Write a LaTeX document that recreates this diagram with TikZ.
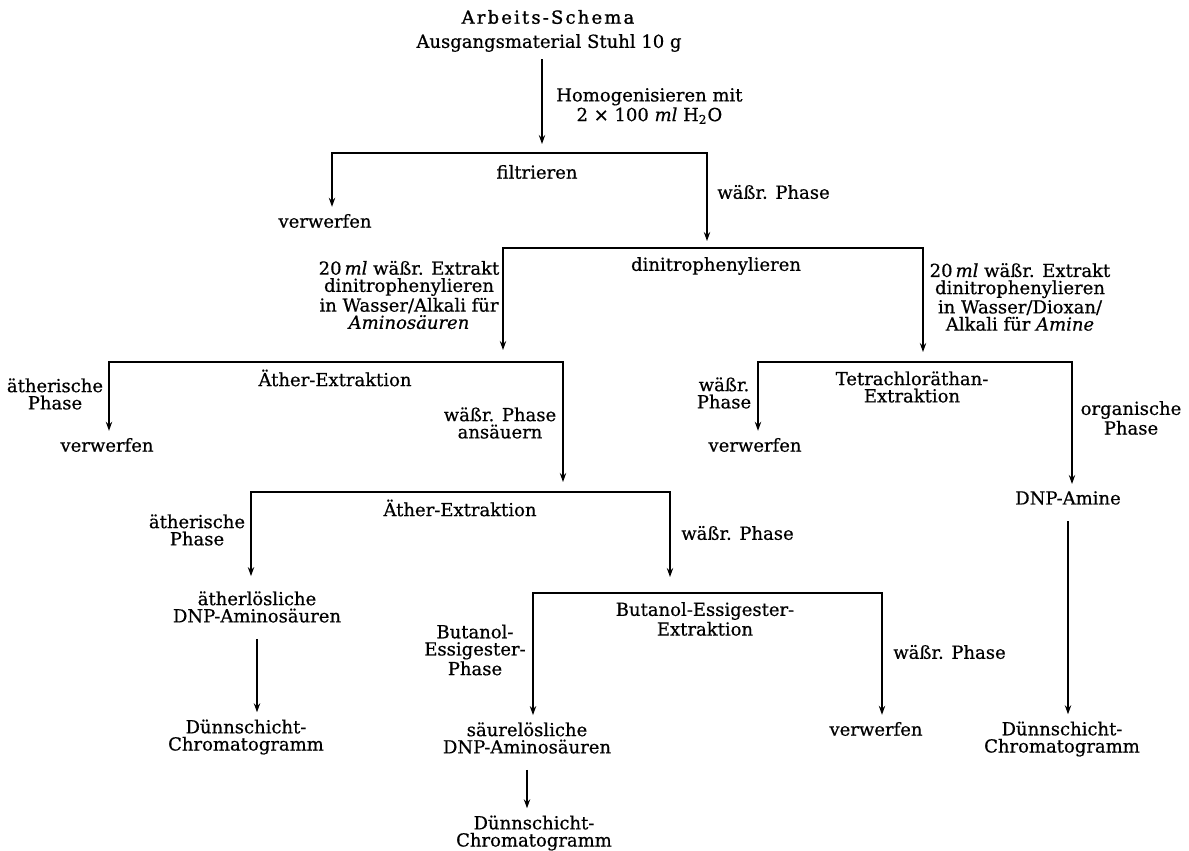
\documentclass[tikz,border=0pt]{standalone}
\usepackage{fontspec}
\setmainfont[FakeBold=0.6]{DejaVu Serif}
\newfontfamily\spacedfont[LetterSpace=12, FakeBold=1.2]{DejaVu Serif}
\usetikzlibrary{arrows.meta}

\begin{document}
\begin{tikzpicture}[x=0.5pt, y=-0.5pt, >={Stealth[length=4.5pt, width=3.2pt]}, line width=0.6pt,
	font=\fontsize{9}{8.6}\selectfont, txt/.style={align=center}]
	\useasboundingbox (0,0) rectangle (1189,851);
	% heading and start material
	\node[txt] (title) at (548,17) {\spacedfont Arbeits-Schema};
	\node[txt] (stuhl) at (549,43) {Ausgangsmaterial Stuhl 10 g};
	\coordinate (homend) at (542,144);
	\node[txt, anchor=west] (homog) at (549,106) {Homogenisieren mit\\2 × 100 \textit{ml} H\textsubscript{2}O};
	\draw[->] (stuhl.south -| homend) -- (homend);
	% filtrieren
	\node[txt] (filtr) at (537,172) {filtrieren};
	\node[txt] (verw1) at (325,221) {verwerfen};
	\node[txt, anchor=west] (aq1) at (710,192) {wäßr. Phase};
	\coordinate (b1l) at (332,153);
	\coordinate (b1r) at (707,153);
	\coordinate (b1end) at (707,241);
	\draw[<->] (b1l |- verw1.north) -- (b1l) -- (b1r) -- (b1end);
	% dinitrophenylieren
	\node[txt] (dinitro) at (716,266) {dinitrophenylieren};
	\node[txt] (exleft) at (409,295) {20\,\textit{ml} wäßr. Extrakt\\dinitrophenylieren\\in Wasser/Alkali für\\\textit{Aminosäuren}};
	\node[txt] (exright) at (1020,297) {20\,\textit{ml} wäßr. Extrakt\\dinitrophenylieren\\in Wasser/Dioxan/\\Alkali für \textit{Amine}};
	\coordinate (b2l) at (503,248);
	\coordinate (b2r) at (923,248);
	\coordinate (b2lend) at (503,350);
	\coordinate (b2rend) at (923,352);
	\draw[<->] (b2lend) -- (b2l) -- (b2r) -- (b2rend);
	% Aether-Extraktion (Aminosaeuren)
	\node[txt] (eth1) at (55,394) {ätherische\\Phase};
	\node[txt] (aether1) at (335,378) {Äther-Extraktion};
	\node[txt] (verw2) at (107,445) {verwerfen};
	\node[txt] (aq2) at (500,423) {wäßr. Phase\\ansäuern};
	\coordinate (b3l) at (109,362);
	\coordinate (b3r) at (563,362);
	\coordinate (b3end) at (563,482);
	\draw[<->] (b3l |- verw2.north) -- (b3l) -- (b3r) -- (b3end);
	% Tetrachlorathan-Extraktion (Amine)
	\node[txt] (aq3) at (724,393) {wäßr.\\Phase};
	\node[txt] (tetra) at (912,387) {Tetrachloräthan-\\Extraktion};
	\node[txt] (verw3) at (755,445) {verwerfen};
	\node[txt] (org) at (1131,418) {organische\\Phase};
	\node[txt] (dnpam) at (1068,498) {DNP-Amine};
	\node[txt] (chrom3) at (1062,739) {Dünnschicht-\\Chromatogramm};
	\coordinate (b4l) at (758,362);
	\coordinate (b4r) at (1072,362);
	\draw[<->] (b4l |- verw3.north) -- (b4l) -- (b4r) -- (b4r |- dnpam.north);
	\draw[->, shorten <=4.5pt] (dnpam.south) -- (dnpam.south |- chrom3.north);
	% second Aether-Extraktion
	\node[txt] (eth2) at (197,530) {ätherische\\Phase};
	\node[txt] (aether2) at (460,508) {Äther-Extraktion};
	\node[txt, anchor=west] (aq4) at (674,533) {wäßr. Phase};
	\node[txt] (ethsol) at (257,607) {ätherlösliche\\DNP-Aminosäuren};
	\node[txt] (chrom1) at (246,737) {Dünnschicht-\\Chromatogramm};
	\coordinate (b5l) at (251,492);
	\coordinate (b5r) at (670,492);
	\coordinate (b5end) at (670,577);
	\draw[<->, shorten <=4pt] (b5l |- ethsol.north) -- (b5l) -- (b5r) -- (b5end);
	\draw[->, shorten <=4.5pt] (ethsol.south) -- (ethsol.south |- chrom1.north);
	% Butanol-Essigester-Extraktion
	\node[txt] (butex) at (705,619) {Butanol-Essigester-\\Extraktion};
	\node[txt] (butph) at (475,650) {Butanol-\\Essigester-\\Phase};
	\node[txt, anchor=west] (aq5) at (886,652) {wäßr. Phase};
	\node[txt] (saeure) at (527,738) {säurelösliche\\DNP-Aminosäuren};
	\node[txt] (verw4) at (876,729) {verwerfen};
	\node[txt] (chrom2) at (534,833) {Dünnschicht-\\Chromatogramm};
	\coordinate (b6l) at (533,593);
	\coordinate (b6r) at (882,593);
	\draw[<->] (b6l |- saeure.north) -- (b6l) -- (b6r) -- (b6r |- verw4.north);
	\draw[->, shorten <=4.5pt] (saeure.south) -- (saeure.south |- chrom2.north);
\end{tikzpicture}
\end{document}
